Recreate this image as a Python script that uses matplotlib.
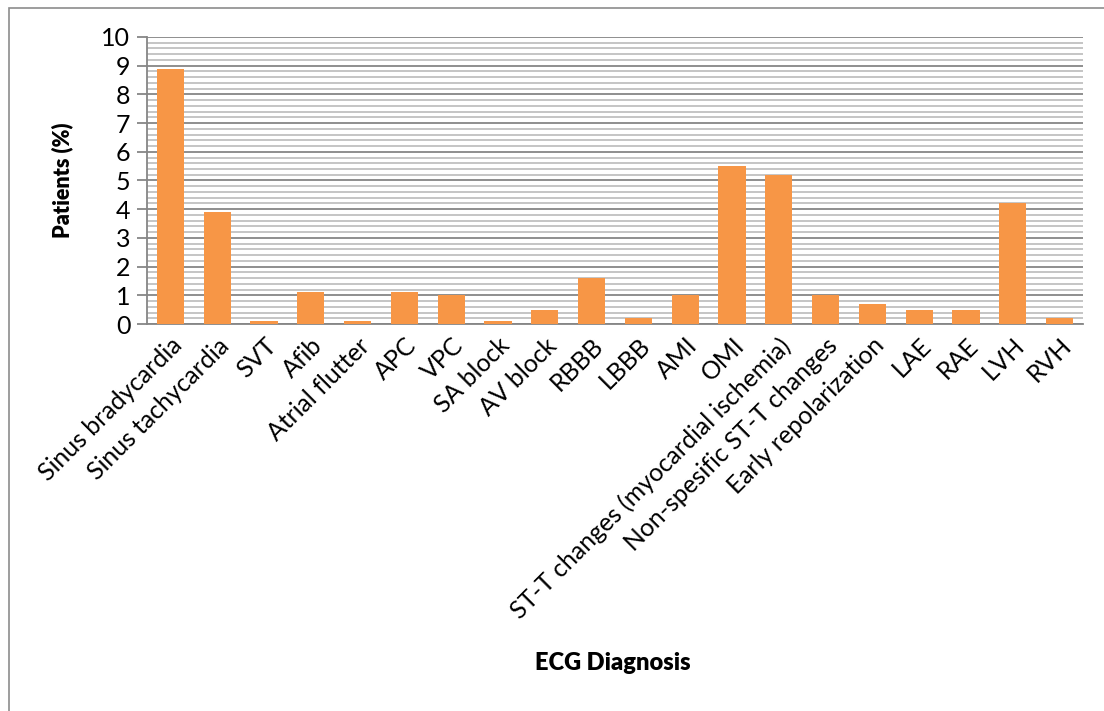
import numpy as np
import matplotlib.pyplot as plt
from matplotlib.patches import Rectangle
from matplotlib.ticker import MultipleLocator

plt.rcParams['font.family'] = ['Lato', 'DejaVu Sans']

diagnoses = ['Sinus bradycardia', 'Sinus tachycardia', 'SVT', 'Afib', 'Atrial flutter',
             'APC', 'VPC', 'SA block', 'AV block', 'RBBB', 'LBBB', 'AMI', 'OMI',
             'ST-T changes (myocardial ischemia)', 'Non-spesific ST-T changes',
             'Early repolarization', 'LAE', 'RAE', 'LVH', 'RVH']
patients_pct = [8.9, 3.9, 0.1, 1.1, 0.1, 1.1, 1.0, 0.1, 0.5, 1.6,
                0.2, 1.0, 5.5, 5.2, 1.0, 0.7, 0.5, 0.5, 4.2, 0.2]

fig = plt.figure(figsize=(11.04, 7.11), dpi=100)
ax = fig.add_axes([0.1332, 0.5443, 0.8478, 0.4037])

# chart area border
fig.patches.append(Rectangle((9/1104, -0.1), 1.2, 1 - 8/711 + 0.1, transform=fig.transFigure,
                             fill=False, edgecolor='#8c8c8c', linewidth=1.2))

x = np.arange(len(diagnoses))
ax.bar(x, patients_pct, width=0.58, color='#F79646', zorder=3)

ax.set_xlim(-0.5, len(diagnoses) - 0.5)
ax.set_ylim(0, 10)
ax.yaxis.set_major_locator(MultipleLocator(1))
ax.yaxis.set_minor_locator(MultipleLocator(0.2))
ax.grid(axis='y', which='major', color='#868686', linewidth=1.3, zorder=0)
ax.grid(axis='y', which='minor', color='#c0c0c0', linewidth=1.3, zorder=0)
ax.tick_params(axis='y', which='major', length=7, width=1.3, color='#868686',
               labelsize=18, pad=5)
ax.tick_params(axis='y', which='minor', length=0)
ax.tick_params(axis='x', length=0, labelsize=17.8, pad=7)

ax.set_xticks(x)
ax.set_xticklabels(diagnoses, rotation=45, ha='right', rotation_mode='anchor')

for side in ['top', 'right']:
    ax.spines[side].set_visible(False)
for side in ['left', 'bottom']:
    ax.spines[side].set_color('#868686')
    ax.spines[side].set_linewidth(1.3)

ax.set_ylabel('Patients (%)', fontsize=15.5, fontweight='heavy', labelpad=20)
fig.text(0.555, 0.068, 'ECG Diagnosis', fontsize=17, fontweight='heavy',
         ha='center', va='center')

fig.savefig('out.png', dpi=100)
